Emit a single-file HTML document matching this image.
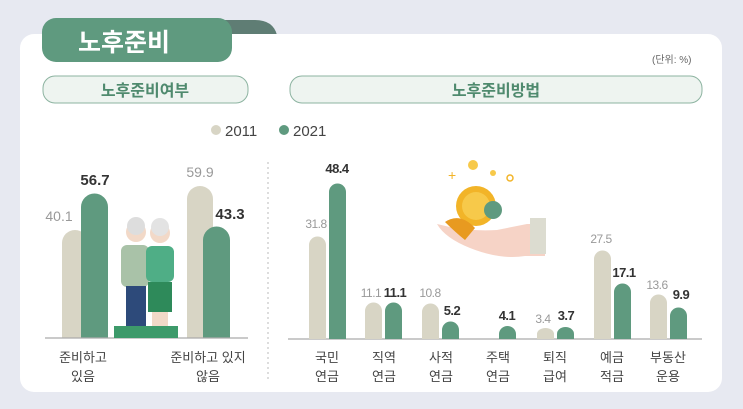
<!DOCTYPE html>
<html><head><meta charset="utf-8"><style>
html,body{margin:0;padding:0;background:#e7e9f1;}
svg{display:block;font-family:"Liberation Sans","Noto Sans CJK KR",sans-serif;}
</style></head><body>
<svg width="743" height="409" viewBox="0 0 743 409">
<rect x="0" y="0" width="743" height="409" fill="#e7e9f1"/>
<path d="M215 20 h40 q18 0 22 15 v10 h-62z" fill="#5f7d74"/>
<rect x="20" y="34" width="702" height="358" rx="14" fill="#fff"/>
<rect x="42" y="18" width="190" height="44" rx="14" fill="#5f9a7f"/>
<text x="78" y="51" font-size="25" font-weight="bold" fill="#fff">노후준비</text>
<text x="652" y="63" font-size="10" fill="#666">(단위: %)</text>
<rect x="43" y="76" width="205" height="27" rx="12" fill="#eef4f0" stroke="#8cb3a0" stroke-width="1"/>
<text x="145" y="96" font-size="16" font-weight="bold" fill="#4f8a6e" text-anchor="middle">노후준비여부</text>
<rect x="290" y="76" width="412" height="27" rx="12" fill="#eef4f0" stroke="#8cb3a0" stroke-width="1"/>
<text x="496" y="96" font-size="16" font-weight="bold" fill="#4f8a6e" text-anchor="middle">노후준비방법</text>
<circle cx="216" cy="130" r="5" fill="#d8d5c5"/>
<text x="225" y="136" font-size="15" fill="#444">2011</text>
<circle cx="284" cy="130" r="5" fill="#5f9a7f"/>
<text x="293" y="136" font-size="15" fill="#444">2021</text>
<line x1="268" y1="162" x2="268" y2="382" stroke="#bbb" stroke-dasharray="2,3"/>
<g>
<path d="M62 338 V243 a13 13 0 0 1 26 0 V338z" fill="#d8d5c5"/>
<path d="M81 338 V207 a13.5 13.5 0 0 1 27 0 V338z" fill="#5f9a7f"/>
<path d="M187 338 V199 a13 13 0 0 1 26 0 V338z" fill="#d8d5c5"/>
<path d="M203 338 V240 a13.5 13.5 0 0 1 27 0 V338z" fill="#5f9a7f"/>
<line x1="45" y1="338" x2="248" y2="338" stroke="#aaa" stroke-width="1.2"/>
<text x="59" y="221" font-size="14" fill="#999" text-anchor="middle">40.1</text>
<text x="95" y="185" font-size="15" font-weight="bold" fill="#333" text-anchor="middle">56.7</text>
<text x="200" y="177" font-size="14" fill="#999" text-anchor="middle">59.9</text>
<text x="230" y="219" font-size="15" font-weight="bold" fill="#333" text-anchor="middle">43.3</text>
<text x="83" y="362" font-size="13" fill="#444" text-anchor="middle">준비하고</text>
<text x="83" y="381" font-size="13" fill="#444" text-anchor="middle">있음</text>
<text x="208" y="362" font-size="13" fill="#444" text-anchor="middle">준비하고 있지</text>
<text x="208" y="381" font-size="13" fill="#444" text-anchor="middle">않음</text>
<rect x="114" y="326" width="64" height="12" fill="#3d9a6a"/>
<circle cx="136" cy="232" r="10" fill="#f2d9c8"/>
<circle cx="136" cy="226" r="9" fill="#ddd"/>
<rect x="121" y="245" width="28" height="42" rx="6" fill="#a9c2a8"/>
<rect x="126" y="286" width="20" height="40" fill="#2d4a7a"/>
<circle cx="160" cy="233" r="10" fill="#f2d9c8"/>
<circle cx="160" cy="227" r="9" fill="#e3e3e3"/>
<rect x="146" y="246" width="28" height="36" rx="6" fill="#4fae86"/>
<rect x="148" y="282" width="24" height="30" fill="#2e8a5a"/>
<rect x="152" y="312" width="16" height="14" fill="#f2d9c8"/>
</g>
<g>
<line x1="288" y1="339" x2="702" y2="339" stroke="#aaa" stroke-width="1.2"/>
<g fill="#d8d5c5">
<path d="M309 339 V245 a8.5 8.5 0 0 1 17 0 V339z"/>
<path d="M365 339 V311 a8.5 8.5 0 0 1 17 0 V339z"/>
<path d="M422 339 V312 a8.5 8.5 0 0 1 17 0 V339z"/>
<path d="M537 339 V334 a8.5 6 0 0 1 17 0 V339z"/>
<path d="M594 339 V259 a8.5 8.5 0 0 1 17 0 V339z"/>
<path d="M650 339 V303 a8.5 8.5 0 0 1 17 0 V339z"/>
</g>
<g fill="#5f9a7f">
<path d="M329 339 V192 a8.5 8.5 0 0 1 17 0 V339z"/>
<path d="M385 339 V311 a8.5 8.5 0 0 1 17 0 V339z"/>
<path d="M442 339 V330 a8.5 8.5 0 0 1 17 0 V339z"/>
<path d="M499 339 V334 a8.5 8 0 0 1 17 0 V339z"/>
<path d="M557 339 V334 a8.5 7 0 0 1 17 0 V339z"/>
<path d="M614 339 V292 a8.5 8.5 0 0 1 17 0 V339z"/>
<path d="M670 339 V316 a8.5 8.5 0 0 1 17 0 V339z"/>
</g>
<g font-size="12" fill="#999" text-anchor="middle" letter-spacing="-0.5">
<text x="316" y="228">31.8</text>
<text x="371" y="297">11.1</text>
<text x="430" y="297">10.8</text>
<text x="543" y="323">3.4</text>
<text x="601" y="243">27.5</text>
<text x="657" y="289">13.6</text>
</g>
<g font-size="13" font-weight="bold" fill="#333" text-anchor="middle" letter-spacing="-0.5">
<text x="337" y="173">48.4</text>
<text x="395" y="297">11.1</text>
<text x="452" y="315">5.2</text>
<text x="507" y="320">4.1</text>
<text x="566" y="320">3.7</text>
<text x="624" y="277">17.1</text>
<text x="681" y="299">9.9</text>
</g>
<g font-size="13" fill="#444" text-anchor="middle">
<text x="327" y="362">국민</text><text x="327" y="381">연금</text>
<text x="384" y="362">직역</text><text x="384" y="381">연금</text>
<text x="441" y="362">사적</text><text x="441" y="381">연금</text>
<text x="498" y="362">주택</text><text x="498" y="381">연금</text>
<text x="555" y="362">퇴직</text><text x="555" y="381">급여</text>
<text x="612" y="362">예금</text><text x="612" y="381">적금</text>
<text x="668" y="362">부동산</text><text x="668" y="381">운용</text>
</g>
<path d="M437 224 q30 8 60 6 l30 -6 h18 v32 h-20 q-25 4 -55 -8 q-25 -10 -33 -24z" fill="#f6d3c6"/>
<rect x="530" y="218" width="16" height="36" fill="#dcdcd0"/>
<circle cx="476" cy="206" r="20" fill="#f2b428"/>
<circle cx="476" cy="206" r="14" fill="#f7c94a"/>
<path d="M445 222 q15 -10 30 6 l-10 12 q-10 -8 -20 -18z" fill="#e89a20"/>
<circle cx="493" cy="210" r="9" fill="#5f9a7f"/>
<circle cx="473" cy="165" r="5" fill="#f7c94a"/>
<circle cx="493" cy="173" r="3" fill="#f7c94a"/>
<circle cx="510" cy="178" r="3" fill="none" stroke="#f2b428" stroke-width="1.5"/>
<text x="448" y="180" font-size="14" fill="#f2b428">+</text>
</g>
</svg>
</body></html>
